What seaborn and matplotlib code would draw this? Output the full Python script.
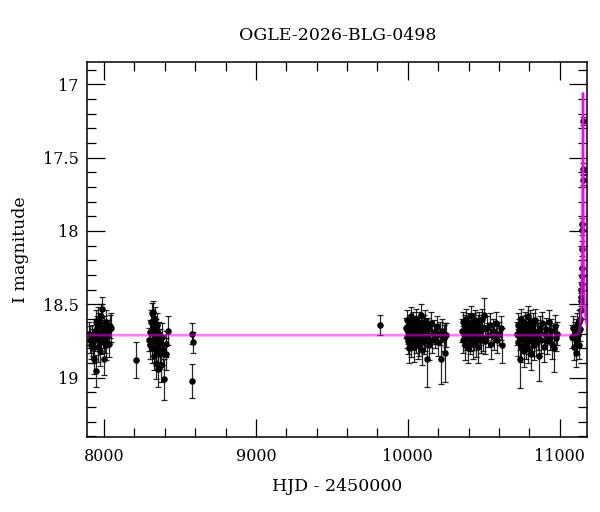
import numpy as np
import pandas as pd
import matplotlib
matplotlib.use("Agg")
import matplotlib.pyplot as plt
from matplotlib.ticker import MultipleLocator
import seaborn as sns

# OGLE photometry (HJD - 2450000, I mag, error)
t_s1 = [7898, 7905, 7912, 7918, 7925, 7930, 7935, 7940, 7944, 7948, 7952, 7956,
        7960, 7963, 7967, 7970, 7974, 7978, 7982, 7986, 7990, 7994, 7998, 8002,
        8006, 8010, 8015, 8020, 8026, 8032, 8038, 8045]
m_s1 = [18.70, 18.74, 18.78, 18.72, 18.80, 18.76, 18.875, 18.68, 18.62, 18.955, 18.66, 18.73,
        18.60, 18.79, 18.70, 18.64, 18.82, 18.58, 18.75, 18.69, 18.53, 18.71, 18.87, 18.66,
        18.74, 18.62, 18.78, 18.70, 18.69, 18.77, 18.65, 18.66]
e_s1 = [0.08, 0.09, 0.09, 0.08, 0.10, 0.09, 0.10, 0.08, 0.08, 0.11, 0.08, 0.09,
        0.08, 0.10, 0.08, 0.08, 0.10, 0.08, 0.09, 0.08, 0.08, 0.09, 0.11, 0.08,
        0.09, 0.08, 0.10, 0.09, 0.08, 0.09, 0.08, 0.10]

t_s2 = [8211]
m_s2 = [18.88]
e_s2 = [0.12]

t_s3 = [8295, 8300, 8305, 8310, 8315, 8318, 8321, 8324, 8327, 8330, 8333, 8336,
        8339, 8342, 8345, 8348, 8351, 8355, 8358, 8362, 8366, 8370, 8375, 8380,
        8388, 8396, 8405, 8410, 8418]
m_s3 = [18.74, 18.69, 18.78, 18.62, 18.56, 18.80, 18.55, 18.66, 18.71, 18.85, 18.60, 18.75,
        18.82, 18.68, 18.90, 18.73, 18.64, 18.79, 18.94, 18.70, 18.84, 18.76, 18.91, 18.72,
        18.81, 19.01, 18.84, 18.77, 18.68]
e_s3 = [0.08, 0.08, 0.09, 0.08, 0.07, 0.10, 0.07, 0.08, 0.08, 0.10, 0.08, 0.09,
        0.10, 0.08, 0.11, 0.09, 0.08, 0.10, 0.12, 0.08, 0.10, 0.09, 0.12, 0.09,
        0.10, 0.14, 0.11, 0.09, 0.10]

t_s4 = [8581, 8583, 8582]
m_s4 = [18.70, 18.76, 19.02]
e_s4 = [0.07, 0.07, 0.115]

t_s5 = [9816, 9988, 9992, 9996, 10000, 10004, 10008, 10012, 10016, 10020, 10024, 10028,
        10032, 10036, 10040, 10044, 10048, 10052, 10056, 10060, 10064, 10068, 10072,
        10076, 10080, 10084, 10088, 10092, 10096, 10100, 10104, 10108, 10112, 10116,
        10120, 10127, 10130, 10135, 10140, 10150, 10160, 10170, 10180, 10190, 10200,
        10210, 10215, 10225, 10235, 10243, 10250]
m_s5 = [18.64, 18.66, 18.72, 18.61, 18.75, 18.69, 18.80, 18.64, 18.71, 18.58, 18.77, 18.68,
        18.73, 18.62, 18.79, 18.70, 18.65, 18.74, 18.60, 18.71, 18.78, 18.66, 18.63,
        18.76, 18.69, 18.72, 18.57, 18.81, 18.67, 18.70, 18.64, 18.75, 18.62, 18.73,
        18.68, 18.87, 18.71, 18.66, 18.78, 18.63, 18.74, 18.69, 18.72, 18.65, 18.76,
        18.70, 18.87, 18.68, 18.73, 18.83, 18.71]
e_s5 = [0.07, 0.07, 0.08, 0.07, 0.09, 0.08, 0.10, 0.07, 0.08, 0.06, 0.09, 0.08,
        0.08, 0.07, 0.10, 0.08, 0.07, 0.09, 0.07, 0.08, 0.09, 0.07, 0.08,
        0.09, 0.08, 0.08, 0.07, 0.10, 0.08, 0.08, 0.07, 0.09, 0.08, 0.09,
        0.08, 0.19, 0.08, 0.07, 0.10, 0.08, 0.09, 0.08, 0.08, 0.07, 0.09,
        0.08, 0.17, 0.08, 0.09, 0.20, 0.08]

t_s6 = [10358, 10362, 10366, 10370, 10374, 10378, 10382, 10386, 10390, 10394, 10398,
        10402, 10406, 10410, 10414, 10418, 10422, 10426, 10430, 10434, 10438, 10442,
        10446, 10450, 10455, 10460, 10465, 10470, 10475, 10480, 10485, 10490, 10495,
        10502, 10510, 10520, 10530, 10540, 10550, 10560, 10570, 10580, 10590, 10600,
        10610, 10618]
m_s6 = [18.68, 18.62, 18.74, 18.70, 18.65, 18.78, 18.60, 18.72, 18.67, 18.80, 18.63,
        18.71, 18.69, 18.75, 18.58, 18.73, 18.66, 18.70, 18.77, 18.64, 18.72, 18.61,
        18.76, 18.68, 18.71, 18.65, 18.79, 18.62, 18.70, 18.74, 18.67, 18.60, 18.73,
        18.57, 18.75, 18.66, 18.71, 18.64, 18.77, 18.68, 18.72, 18.63, 18.74, 18.70,
        18.66, 18.78]
e_s6 = [0.08, 0.07, 0.09, 0.08, 0.08, 0.10, 0.07, 0.09, 0.08, 0.10, 0.07,
        0.08, 0.08, 0.09, 0.07, 0.09, 0.08, 0.08, 0.10, 0.08, 0.09, 0.07,
        0.10, 0.08, 0.08, 0.08, 0.11, 0.07, 0.08, 0.09, 0.08, 0.07, 0.09,
        0.11, 0.09, 0.08, 0.08, 0.08, 0.10, 0.08, 0.09, 0.08, 0.09, 0.08,
        0.08, 0.12]

t_s7 = [10718, 10722, 10726, 10730, 10735, 10740, 10744, 10748, 10752, 10756, 10760,
        10764, 10768, 10772, 10776, 10780, 10784, 10788, 10792, 10796, 10800, 10804,
        10808, 10812, 10816, 10820, 10825, 10830, 10835, 10840, 10845, 10850, 10855,
        10862, 10870, 10878, 10886, 10894, 10902, 10910, 10918, 10926, 10934, 10942,
        10950, 10960, 10968, 10976, 10984]
m_s7 = [18.70, 18.64, 18.76, 18.68, 18.87, 18.72, 18.60, 18.79, 18.66, 18.74, 18.69,
        18.82, 18.63, 18.71, 18.77, 18.65, 18.73, 18.58, 18.80, 18.68, 18.75, 18.62,
        18.71, 18.84, 18.67, 18.73, 18.64, 18.78, 18.70, 18.61, 18.76, 18.69, 18.72,
        18.85, 18.66, 18.74, 18.63, 18.79, 18.70, 18.67, 18.75, 18.62, 18.72, 18.68,
        18.77, 18.80, 18.65, 18.73, 18.70]
e_s7 = [0.08, 0.08, 0.09, 0.08, 0.20, 0.09, 0.07, 0.10, 0.08, 0.09, 0.08,
        0.11, 0.08, 0.08, 0.10, 0.08, 0.09, 0.07, 0.10, 0.08, 0.09, 0.08,
        0.08, 0.11, 0.08, 0.09, 0.08, 0.10, 0.08, 0.08, 0.09, 0.08, 0.09,
        0.17, 0.08, 0.09, 0.08, 0.10, 0.08, 0.08, 0.09, 0.08, 0.09, 0.08,
        0.10, 0.16, 0.08, 0.09, 0.08]

t_s8 = [11082, 11088, 11094, 11100, 11104, 11108, 11112, 11116, 11120, 11124, 11128,
        11132, 11136, 11139, 11141, 11142, 11143, 11144, 11145, 11146, 11147, 11148,
        11148.5, 11150, 11150.5, 11152]
m_s8 = [18.72, 18.66, 18.79, 18.70, 18.83, 18.68, 18.75, 18.64, 18.71, 18.78, 18.62,
        18.67, 18.60, 18.54, 18.48, 18.45, 18.40, 18.36, 18.31, 18.25, 18.12, 17.99,
        17.95, 17.65, 17.58, 17.25]
e_s8 = [0.08, 0.08, 0.09, 0.08, 0.10, 0.08, 0.09, 0.08, 0.08, 0.09, 0.08,
        0.08, 0.07, 0.06, 0.06, 0.06, 0.05, 0.05, 0.05, 0.05, 0.05, 0.04,
        0.04, 0.04, 0.04, 0.03]

# microlensing model curve
t_model = [7888, 11100, 11120, 11130, 11136, 11140, 11143, 11145, 11147, 11148.5,
           11150, 11151.5, 11153, 11154.5, 11156, 11158, 11162, 11168, 11178]
m_model = [18.71, 18.71, 18.70, 18.68, 18.62, 18.54, 18.42, 18.31, 18.12, 17.95,
           17.65, 17.35, 17.06, 17.35, 17.80, 18.20, 18.45, 18.58, 18.65]

df = pd.DataFrame({
    "hjd": t_s1 + t_s2 + t_s3 + t_s4 + t_s5 + t_s6 + t_s7 + t_s8,
    "mag": m_s1 + m_s2 + m_s3 + m_s4 + m_s5 + m_s6 + m_s7 + m_s8,
    "err": e_s1 + e_s2 + e_s3 + e_s4 + e_s5 + e_s6 + e_s7 + e_s8,
})
model = pd.DataFrame({"hjd": t_model, "mag": m_model})

sns.set_theme(style="ticks")
plt.rcParams["font.family"] = ["DejaVu Serif"]
plt.rcParams.update({"text.color": "black", "axes.labelcolor": "black",
                     "xtick.color": "black", "ytick.color": "black"})

fig = plt.figure(figsize=(6, 5.12), dpi=100)
ax = fig.add_axes([0.145, 0.1465, 0.833, 0.7325])

ax.errorbar(df["hjd"], df["mag"], yerr=df["err"], fmt="none", ecolor="black",
            elinewidth=0.9, capsize=2.2, capthick=0.9, alpha=0.85, zorder=2)
sns.scatterplot(data=df, x="hjd", y="mag", ax=ax, color="black", s=22,
                edgecolor="black", linewidth=0, zorder=3)
sns.lineplot(data=model, x="hjd", y="mag", ax=ax, color="magenta", alpha=0.5,
             linewidth=2, zorder=4)
sns.lineplot(data=model[model["hjd"] > 11135], x="hjd", y="mag", ax=ax,
             color="magenta", linewidth=1.0, zorder=5)

ax.set_xlim(7888, 11178)
ax.set_ylim(19.404, 16.848)
ax.xaxis.set_major_locator(MultipleLocator(1000))
ax.xaxis.set_minor_locator(MultipleLocator(200))
ax.yaxis.set_major_locator(MultipleLocator(0.5))
ax.yaxis.set_minor_locator(MultipleLocator(0.1))
ax.yaxis.set_major_formatter(plt.FuncFormatter(lambda v, p: f"{v:g}"))
ax.tick_params(which="both", direction="in", top=True, right=True,
               color="black", width=0.9, labelsize=11.5, labelcolor="black")
ax.tick_params(which="major", length=13.3)
ax.tick_params(which="minor", length=6.5)
ax.tick_params(axis="x", which="major", pad=8)
ax.tick_params(axis="y", which="major", pad=6)
for s in ax.spines.values():
    s.set_linewidth(1.1)
    s.set_color("black")

ax.set_xlabel("")
ax.set_ylabel("")
fig.text(0.562, 0.05, "HJD - 2450000", ha="center", va="center", fontsize=12.5)
fig.text(0.034, 0.512, "I magnitude", ha="center", va="center", rotation=90,
         fontsize=12.5)
fig.text(0.562, 1 - 35 / 512, "OGLE-2026-BLG-0498", ha="center", va="center",
         fontsize=12.5)

fig.savefig("out.png", dpi=100)
